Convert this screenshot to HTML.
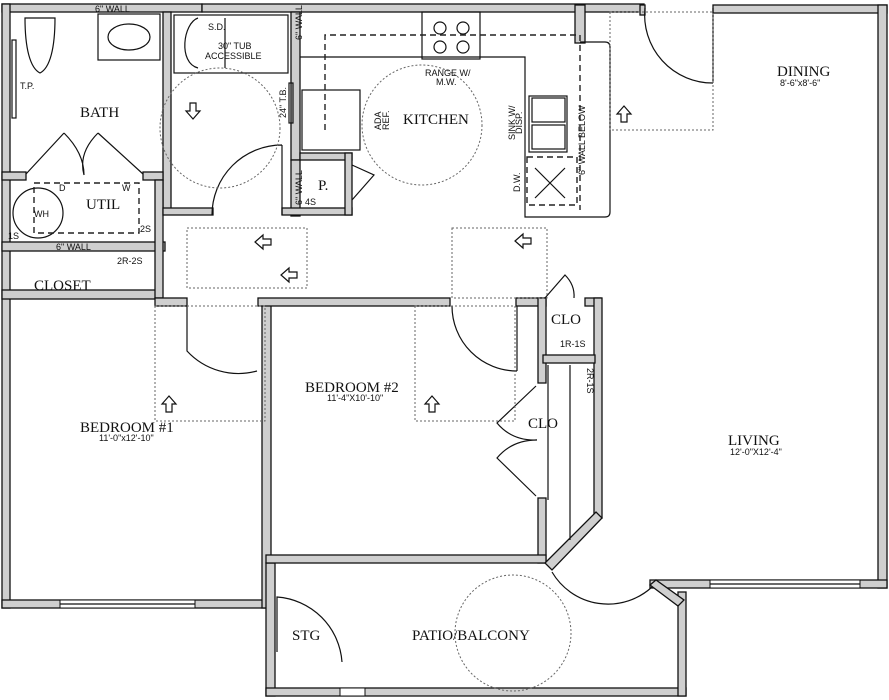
<!DOCTYPE html>
<html><head><style>body{margin:0;background:#fff}svg{display:block}
.w{fill:#cfcfcf;stroke:#111;stroke-width:1.3}
.l{fill:none;stroke:#111;stroke-width:1.2}
.d{fill:none;stroke:#666;stroke-width:1;stroke-dasharray:2 2}
.k{fill:none;stroke:#222;stroke-width:1.4;stroke-dasharray:6 4}
.a{fill:#fff;stroke:#111;stroke-width:1.2}
.r{font-family:"Liberation Serif",serif;font-size:15px;fill:#111}
.s{font-family:"Liberation Sans",sans-serif;font-size:9px;fill:#111}
</style></head><body>
<svg width="889" height="700" viewBox="0 0 889 700" xmlns="http://www.w3.org/2000/svg">
<defs><polygon id="ar" points="-3,-8 3,-8 3,0 7,0 0,8 -7,0 -3,0"/></defs>
<!-- outer walls -->
<rect class="w" x="2" y="4" width="200" height="8"/>
<rect class="w" x="202" y="4" width="442" height="8"/>
<rect class="w" x="713" y="5" width="174" height="8"/>
<rect class="w" x="878" y="5" width="9" height="583"/>
<rect class="w" x="2" y="4" width="8" height="604"/>
<rect class="w" x="2" y="600" width="268" height="8"/>
<rect class="w" x="262" y="300" width="9" height="308"/>
<rect class="w" x="266" y="563" width="9" height="133"/>
<rect class="w" x="266" y="688" width="420" height="8"/>
<rect class="w" x="678" y="592" width="8" height="104"/>
<rect class="w" x="650" y="580" width="237" height="8"/>
<!-- windows -->
<rect x="60" y="600" width="135" height="8" fill="#fff" stroke="#111"/><line class="l" x1="60" y1="604" x2="195" y2="604"/>
<rect x="357" y="555" width="150" height="8" fill="#fff" stroke="#111"/><line class="l" x1="357" y1="559" x2="507" y2="559"/>
<rect x="710" y="580" width="150" height="8" fill="#fff" stroke="#111"/><line class="l" x1="710" y1="584" x2="860" y2="584"/>
<rect x="340" y="688" width="25" height="8" fill="#fff" stroke="#111"/>
<!-- interior walls -->
<rect class="w" x="163" y="12" width="8" height="198"/>
<rect class="w" x="291" y="12" width="9" height="148"/>
<rect class="w" x="291" y="160" width="9" height="56"/>
<rect class="w" x="2" y="172" width="24" height="8"/>
<rect class="w" x="143" y="172" width="20" height="8"/>
<rect class="w" x="2" y="242" width="163" height="9"/>
<rect class="w" x="2" y="290" width="160" height="9"/>
<rect class="w" x="155" y="180" width="8" height="118"/>
<rect class="w" x="163" y="208" width="50" height="7"/>
<rect class="w" x="282" y="208" width="70" height="7"/>
<rect class="w" x="300" y="153" width="52" height="7"/>
<rect class="w" x="345" y="153" width="7" height="62"/>
<rect class="w" x="155" y="298" width="32" height="8"/>
<rect class="w" x="258" y="298" width="192" height="8"/>
<rect class="w" x="516" y="298" width="30" height="8"/>
<rect class="w" x="538" y="298" width="8" height="85"/>
<rect class="w" x="538" y="498" width="8" height="65"/>
<rect class="w" x="585" y="298" width="16" height="8"/>
<rect class="w" x="594" y="298" width="8" height="220"/>
<rect class="w" x="543" y="355" width="52" height="8"/>
<rect class="w" x="266" y="555" width="280" height="8"/>
<rect class="w" x="575" y="5" width="10" height="38"/>
<rect class="w" x="640" y="5" width="5" height="10"/>
<polygon class="w" points="545,563 596,512 602,518 552,570"/>
<polygon class="w" points="650,585 656,580 684,600 678,606"/>
<line class="l" x1="548" y1="365" x2="548" y2="500"/><line class="l" x1="570" y1="365" x2="570" y2="540"/>
<!-- bath fixtures -->
<path class="l" d="M25,18 h30 c0,30 -5,50 -15,55 c-10,-5 -15,-25 -15,-55z"/>
<rect class="l" x="98" y="14" width="62" height="46"/>
<ellipse class="l" cx="129" cy="37" rx="21" ry="13"/>
<rect class="l" x="174" y="15" width="114" height="58"/>
<path class="l" d="M198,18 c-15,5 -20,45 0,50 M225,18 v50"/>
<rect class="l" x="12" y="40" width="4" height="78"/>
<rect class="l" x="289" y="83" width="4" height="40"/>
<!-- util -->
<circle class="l" cx="38" cy="213" r="25"/>
<rect class="k" x="34" y="183" width="105" height="50"/>
<path class="l" d="M26,174 L64,133 M64,133 q20,20 20,42 M143,174 L98,133 M98,133 q-20,20 -14,42"/>
<!-- doors -->
<path class="l" d="M212,215 a70,70 0 0 1 70,-70 M282,145 v70"/>
<path class="l" d="M187,306 v45 a70,70 0 0 0 70,20"/>
<path class="l" d="M452,306 a65,65 0 0 0 65,65 M517,306 v65"/>
<path class="l" d="M645,8 a68,68 0 0 0 68,75 M713,8 v75"/>
<path class="l" d="M536,386 L497,423 q15,18 40,17 M536,496 L497,458 q15,-18 40,-18"/>
<path class="l" d="M545,298 l20,-23 q10,10 9,23"/>
<path class="l" d="M352,165 l22,10 -22,25"/>
<path class="l" d="M277,652 v-55 a70,70 0 0 1 65,65 M552,572 a65,65 0 0 0 100,15"/>
<!-- kitchen -->
<rect class="l" x="422" y="12" width="58" height="47"/>
<circle class="l" cx="440" cy="28" r="6"/><circle class="l" cx="463" cy="28" r="6"/><circle class="l" cx="440" cy="47" r="6"/><circle class="l" cx="463" cy="47" r="6"/>
<path class="l" d="M300,57 h225 v160 h80 q5,0 5,-5 v-165 q0,-5 -5,-5 h-25"/>
<rect class="l" x="302" y="90" width="58" height="60"/>
<rect class="l" x="529" y="96" width="38" height="56"/>
<rect class="l" x="532" y="98" width="33" height="24"/><rect class="l" x="532" y="125" width="33" height="24"/>
<path class="k" d="M325,130 v-95 h255 v175"/>
<rect class="k" x="527" y="157" width="50" height="48"/>
<path class="l" d="M535,168 l30,30 M565,168 l-30,30"/>
<!-- dotted guides -->
<rect class="d" x="187" y="228" width="120" height="60"/>
<rect class="d" x="452" y="228" width="95" height="70"/>
<rect class="d" x="610" y="12" width="103" height="118"/>
<rect class="d" x="155" y="306" width="110" height="115"/>
<rect class="d" x="415" y="306" width="100" height="115"/>
<circle class="d" cx="220" cy="128" r="60"/>
<circle class="d" cx="422" cy="125" r="60"/>
<circle class="d" cx="513" cy="633" r="58"/>
<!-- arrows -->
<use href="#ar" class="a" transform="translate(193,111)"/>
<use href="#ar" class="a" transform="translate(263,242) rotate(90)"/>
<use href="#ar" class="a" transform="translate(289,275) rotate(90)"/>
<use href="#ar" class="a" transform="translate(523,241) rotate(90)"/>
<use href="#ar" class="a" transform="translate(624,114) rotate(180)"/>
<use href="#ar" class="a" transform="translate(169,404) rotate(180)"/>
<use href="#ar" class="a" transform="translate(432,404) rotate(180)"/>
<!-- labels -->
<text class="r" x="80" y="117">BATH</text>
<text class="r" x="86" y="209">UTIL</text>
<text class="r" x="34" y="290">CLOSET</text>
<text class="r" x="403" y="124">KITCHEN</text>
<text class="r" x="777" y="76">DINING</text>
<text class="r" x="80" y="432">BEDROOM #1</text>
<text class="r" x="305" y="392">BEDROOM #2</text>
<text class="r" x="728" y="445">LIVING</text>
<text class="r" x="528" y="428">CLO</text>
<text class="r" x="551" y="324">CLO</text>
<text class="r" x="292" y="640">STG</text>
<text class="r" x="412" y="640">PATIO/BALCONY</text>
<text class="r" x="318" y="190">P.</text>
<text class="s" x="95" y="12">6" WALL</text>
<text class="s" x="20" y="89">T.P.</text>
<text class="s" x="208" y="30">S.D.</text>
<text class="s" x="218" y="49">30" TUB</text>
<text class="s" x="205" y="59">ACCESSIBLE</text>
<text class="s" x="34" y="217" font-size="8">WH</text>
<text class="s" x="59" y="191">D</text><text class="s" x="122" y="191">W</text>
<text class="s" x="8" y="239">1S</text><text class="s" x="140" y="232">2S</text>
<text class="s" x="56" y="250">6" WALL</text>
<text class="s" x="117" y="264">2R-2S</text>
<text class="s" x="305" y="205">4S</text>
<text class="s" x="425" y="76">RANGE W/</text><text class="s" x="436" y="85">M.W.</text>
<text class="s" x="780" y="86" font-size="8">8'-6"x8'-6"</text>
<text class="s" x="99" y="441" font-size="8">11'-0"x12'-10"</text>
<text class="s" x="327" y="401" font-size="8">11'-4"X10'-10"</text>
<text class="s" x="730" y="455" font-size="8">12'-0"X12'-4"</text>
<text class="s" x="560" y="347">1R-1S</text>
<text class="s" transform="translate(587,368) rotate(90)">2R-1S</text>
<text class="s" transform="translate(302,40) rotate(-90)">6" WALL</text>
<text class="s" transform="translate(286,118) rotate(-90)">24" T.B.</text>
<text class="s" transform="translate(302,205) rotate(-90)">6" WALL</text>
<text class="s" transform="translate(381,130) rotate(-90)">ADA</text>
<text class="s" transform="translate(389,130) rotate(-90)">REF.</text>
<text class="s" transform="translate(515,140) rotate(-90)">SINK W/</text>
<text class="s" transform="translate(522,134) rotate(-90)">DISP.</text>
<text class="s" transform="translate(520,192) rotate(-90)">D.W.</text>
<text class="s" transform="translate(585,175) rotate(-90)">6" WALL BELOW</text>
</svg></body></html>
